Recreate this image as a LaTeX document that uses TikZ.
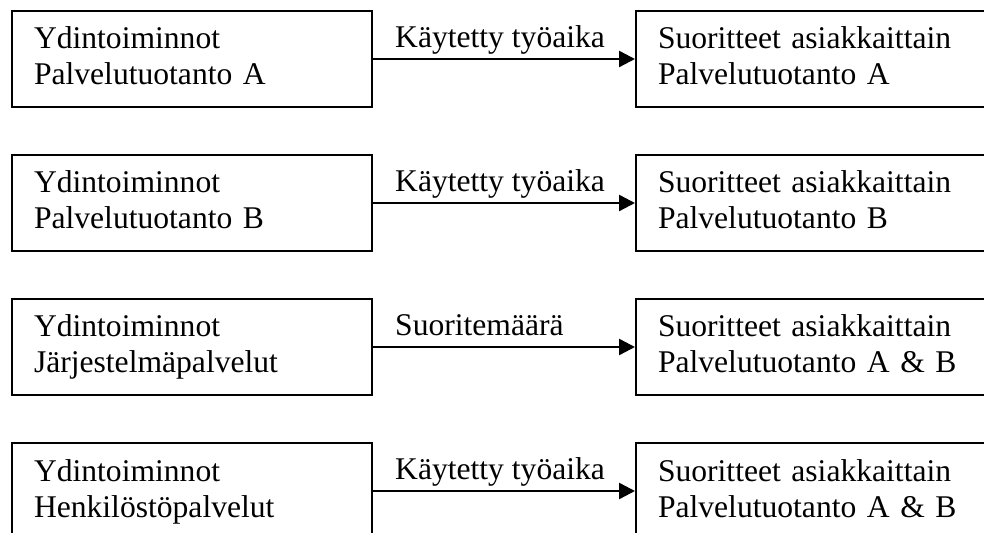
\documentclass[tikz,border=0pt]{standalone}
\usepackage{fontspec}
\setmainfont{Liberation Serif}
\usepackage{tikz}
\usetikzlibrary{arrows.meta}

\newcommand{\rowstrut}{\rule[-3.5pt]{0pt}{15pt}}

\begin{document}
\begin{tikzpicture}[x=0.5pt, y=-0.5pt, >={Triangle[length=8pt, width=8pt]},
    box/.style={draw, line width=1pt, anchor=north west, minimum width=180pt,
        minimum height=48pt, text width=158pt, inner xsep=11pt, inner ysep=0pt,
        align=left, font=\fontsize{15.8pt}{18pt}\selectfont},
    flow/.style={->, line width=1.2pt},
    lbl/.style={pos=0, anchor=base west, inner sep=0pt, xshift=10.5pt, yshift=5.5pt,
        font=\fontsize{15.8pt}{18pt}\selectfont}]
    \useasboundingbox (0,0) rectangle (984,533);
    \clip (0,0) rectangle (984,533);
    % ydintoiminnot
    \node[box] (ya) at (11,10) {\rowstrut Ydintoiminnot\\\rowstrut Palvelutuotanto A};
    \node[box] (yb) at (11,154) {\rowstrut Ydintoiminnot\\\rowstrut Palvelutuotanto B};
    \node[box] (yj) at (11,298) {\rowstrut Ydintoiminnot\\\rowstrut Järjestelmäpalvelut};
    \node[box] (yh) at (11,442) {\rowstrut Ydintoiminnot\\\rowstrut Henkilöstöpalvelut};
    % suoritteet
    \node[box] (sa) at (635,10) {\rowstrut Suoritteet asiakkaittain\\\rowstrut Palvelutuotanto A};
    \node[box] (sb) at (635,154) {\rowstrut Suoritteet asiakkaittain\\\rowstrut Palvelutuotanto B};
    \node[box] (sj) at (635,298) {\rowstrut Suoritteet asiakkaittain\\\rowstrut Palvelutuotanto A \& B};
    \node[box] (sh) at (635,442) {\rowstrut Suoritteet asiakkaittain\\\rowstrut Palvelutuotanto A \& B};
    \draw[flow] (ya) -- node[lbl] {Käytetty työaika} (sa);
    \draw[flow] (yb) -- node[lbl] {Käytetty työaika} (sb);
    \draw[flow] (yj) -- node[lbl] {Suoritemäärä} (sj);
    \draw[flow] (yh) -- node[lbl] {Käytetty työaika} (sh);
\end{tikzpicture}
\end{document}
